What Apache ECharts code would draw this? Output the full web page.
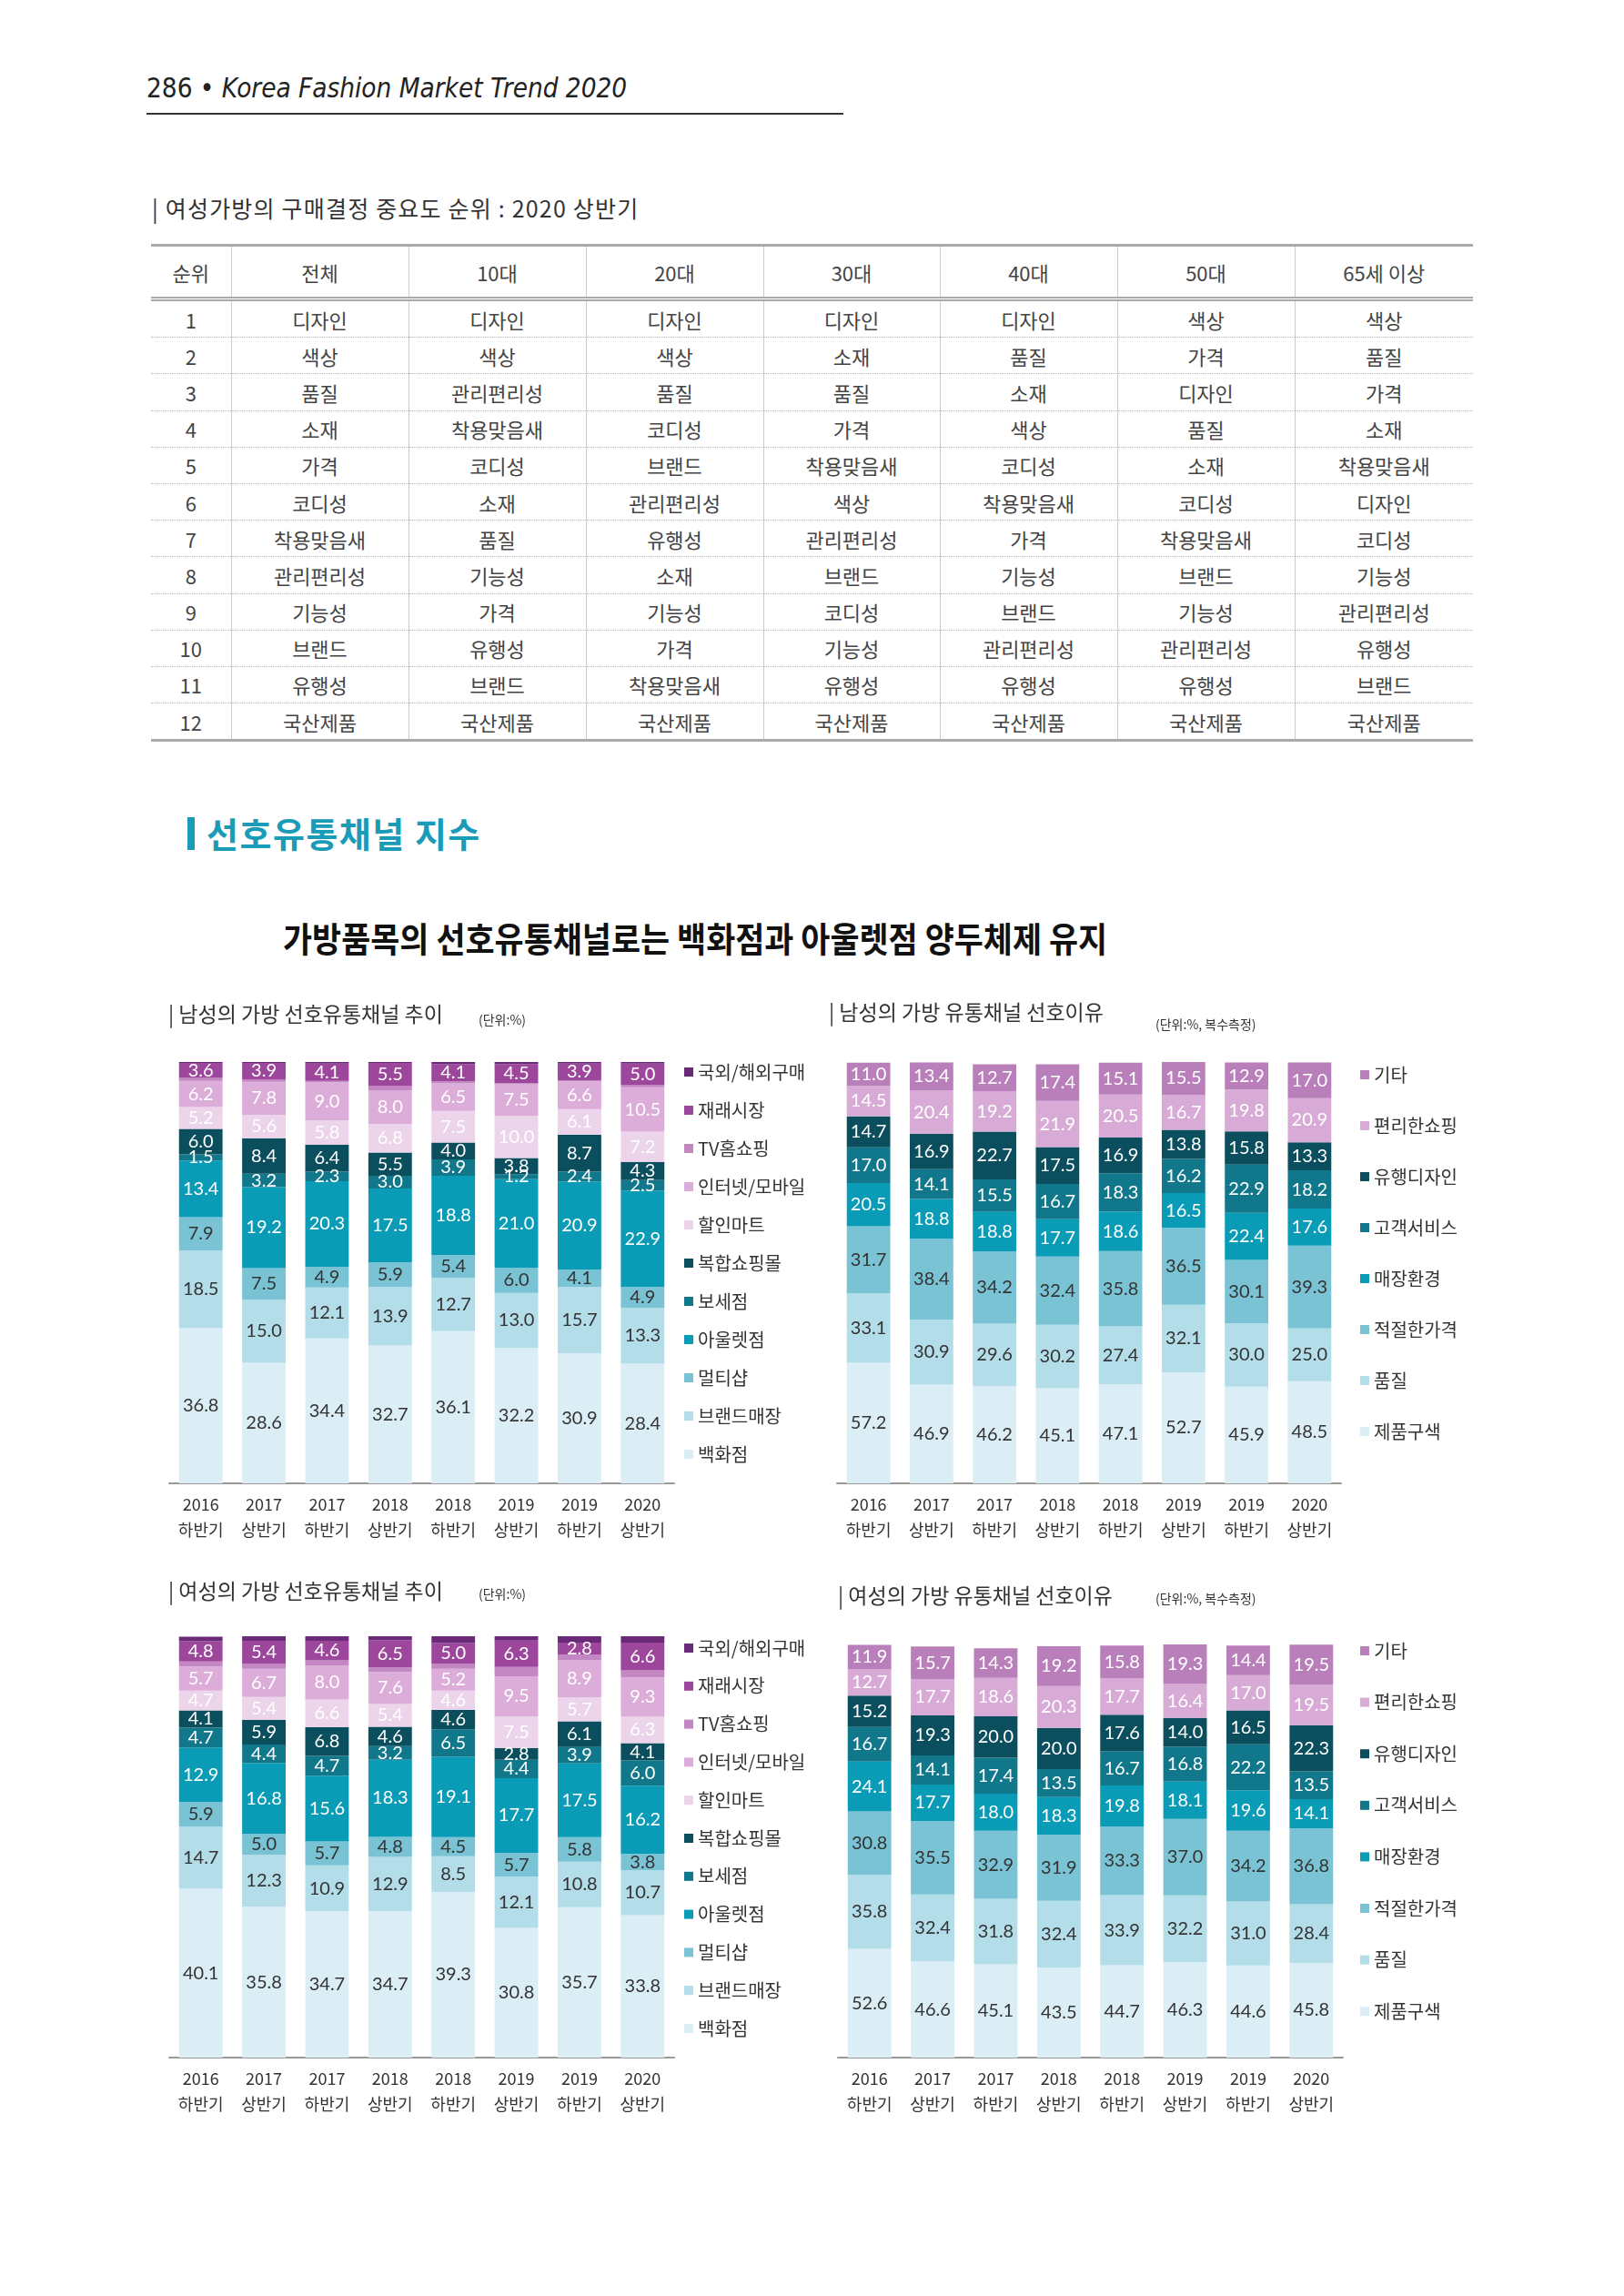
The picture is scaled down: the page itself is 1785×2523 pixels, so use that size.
<!DOCTYPE html>
<html>
<head>
<meta charset="utf-8">
<script src="https://cdn.jsdelivr.net/npm/echarts@6/dist/echarts.min.js"></script>
<style>
html, body { margin: 0; padding: 0; background: #fff; }
body { width: 1785px; height: 2523px; position: relative; overflow: hidden; font-family: 'Noto Sans CJK KR', sans-serif; color: #333; }
#head { position: absolute; left: 161px; top: 77px; font-family: 'DejaVu Sans Condensed', 'DejaVu Sans', sans-serif; font-size: 29.4px; line-height: 40px; color: #222; white-space: nowrap; }
#head i { font-style: italic; }
#rule { position: absolute; left: 161px; top: 124px; width: 766px; height: 2px; background: #333; }
#cap { position: absolute; left: 167px; top: 211px; font-size: 25px; line-height: 34px; letter-spacing: 1.2px; color: #333; white-space: nowrap; }
#tbl { position: absolute; left: 166px; top: 268px; width: 1453px; border-collapse: collapse; table-layout: fixed; font-size: 22px; color: #444; }
#tbl th { height: 55px; font-weight: normal; border-top: 3px solid #aaa; border-bottom: 5px double #aaa; }
#tbl td { height: 39.2px; padding: 0; border-bottom: 1px dotted #bbb; text-align: center; }
#tbl th, #tbl td { border-left: 1px solid #ccc; text-align: center; padding: 0; }
#tbl th:first-child, #tbl td:first-child { border-left: none; }
#tbl tr:last-child td { border-bottom: 3px solid #aaa; }
#secbar { position: absolute; left: 206px; top: 898px; width: 8px; height: 36px; background: #1a9cb8; }
#sec { position: absolute; left: 227px; top: 892px; font-size: 38px; line-height: 46px; letter-spacing: 1.5px; font-weight: bold; color: #1a9cb8; white-space: nowrap; }
#headline { position: absolute; left: 311px; top: 1005px; font-size: 38px; line-height: 50px; font-weight: bold; color: #111; white-space: nowrap; transform: scaleX(0.918); transform-origin: left center; }
#chart { position: absolute; left: 0; top: 0; width: 1785px; height: 2523px; }
</style>
</head>
<body>
<div id="head">286 • <i>Korea Fashion Market Trend 2020</i></div>
<div id="rule"></div>
<div id="cap">| 여성가방의 구매결정 중요도 순위 : 2020 상반기</div>
<table id="tbl"></table>
<div id="secbar"></div>
<div id="sec">선호유통채널 지수</div>
<div id="headline">가방품목의 선호유통채널로는 백화점과 아울렛점 양두체제 유지</div>
<div id="chart"></div>
<script>
// 구매결정 중요도 순위 표
var tableHead = ['순위', '전체', '10대', '20대', '30대', '40대', '50대', '65세 이상'];
var rankAll = ['디자인', '색상', '품질', '소재', '가격', '코디성', '착용맞음새', '관리편리성', '기능성', '브랜드', '유행성', '국산제품'];
var rank10 = ['디자인', '색상', '관리편리성', '착용맞음새', '코디성', '소재', '품질', '기능성', '가격', '유행성', '브랜드', '국산제품'];
var rank20 = ['디자인', '색상', '품질', '코디성', '브랜드', '관리편리성', '유행성', '소재', '기능성', '가격', '착용맞음새', '국산제품'];
var rank30 = ['디자인', '소재', '품질', '가격', '착용맞음새', '색상', '관리편리성', '브랜드', '코디성', '기능성', '유행성', '국산제품'];
var rank40 = ['디자인', '품질', '소재', '색상', '코디성', '착용맞음새', '가격', '기능성', '브랜드', '관리편리성', '유행성', '국산제품'];
var rank50 = ['색상', '가격', '디자인', '품질', '소재', '코디성', '착용맞음새', '브랜드', '기능성', '관리편리성', '유행성', '국산제품'];
var rank65 = ['색상', '품질', '가격', '소재', '착용맞음새', '디자인', '코디성', '기능성', '관리편리성', '유행성', '브랜드', '국산제품'];

var periods = ['2016\n하반기', '2017\n상반기', '2017\n하반기', '2018\n상반기', '2018\n하반기', '2019\n상반기', '2019\n하반기', '2020\n상반기'];

// 유통채널 (아래 -> 위)
var channelNames = ['백화점', '브랜드매장', '멀티샵', '아울렛점', '보세점', '복합쇼핑몰', '할인마트', '인터넷/모바일', 'TV홈쇼핑', '재래시장', '국외/해외구매'];
var mDept   = [36.8, 28.6, 34.4, 32.7, 36.1, 32.2, 30.9, 28.4];
var mBrand  = [18.5, 15.0, 12.1, 13.9, 12.7, 13.0, 15.7, 13.3];
var mMulti  = [7.9, 7.5, 4.9, 5.9, 5.4, 6.0, 4.1, 4.9];
var mOutlet = [13.4, 19.2, 20.3, 17.5, 18.8, 21.0, 20.9, 22.9];
var mBose   = [1.5, 3.2, 2.3, 3.0, 3.9, 1.2, 2.4, 2.5];
var mMall   = [6.0, 8.4, 6.4, 5.5, 4.0, 3.8, 8.7, 4.3];
var mMart   = [5.2, 5.6, 5.8, 6.8, 7.5, 10.0, 6.1, 7.2];
var mOnline = [6.2, 7.8, 9.0, 8.0, 6.5, 7.5, 6.6, 10.5];
var mTv     = [0.7, 0.6, 0.3, 1.0, 0.5, 0.3, 0.3, 0.6];
var mMarket = [3.6, 3.9, 4.1, 5.5, 4.1, 4.5, 3.9, 5.0];
var mAbroad = [0.2, 0.2, 0.4, 0.2, 0.5, 0.5, 0.4, 0.4];

var wDept   = [40.1, 35.8, 34.7, 34.7, 39.3, 30.8, 35.7, 33.8];
var wBrand  = [14.7, 12.3, 10.9, 12.9, 8.5, 12.1, 10.8, 10.7];
var wMulti  = [5.9, 5.0, 5.7, 4.8, 4.5, 5.7, 5.8, 3.8];
var wOutlet = [12.9, 16.8, 15.6, 18.3, 19.1, 17.7, 17.5, 16.2];
var wBose   = [4.7, 4.4, 4.7, 3.2, 6.5, 4.4, 3.9, 6.0];
var wMall   = [4.1, 5.9, 6.8, 4.6, 4.6, 2.8, 6.1, 4.1];
var wMart   = [4.7, 5.4, 6.6, 5.4, 4.6, 7.5, 5.7, 6.3];
var wOnline = [5.7, 6.7, 8.0, 7.6, 5.2, 9.5, 8.9, 9.3];
var wTv     = [1.2, 1.2, 1.3, 1.1, 1.1, 2.2, 1.3, 1.7];
var wMarket = [4.8, 5.4, 4.6, 6.5, 5.0, 6.3, 2.8, 6.6];
var wAbroad = [1.1, 1.1, 1.1, 0.9, 1.6, 1.0, 1.5, 1.5];

// 선호이유 (아래 -> 위), 복수응답
var reasonNames = ['제품구색', '품질', '적절한가격', '매장환경', '고객서비스', '유행디자인', '편리한쇼핑', '기타'];
var mAssort  = [57.2, 46.9, 46.2, 45.1, 47.1, 52.7, 45.9, 48.5];
var mQuality = [33.1, 30.9, 29.6, 30.2, 27.4, 32.1, 30.0, 25.0];
var mPrice   = [31.7, 38.4, 34.2, 32.4, 35.8, 36.5, 30.1, 39.3];
var mStore   = [20.5, 18.8, 18.8, 17.7, 18.6, 16.5, 22.4, 17.6];
var mService = [17.0, 14.1, 15.5, 16.7, 18.3, 16.2, 22.9, 18.2];
var mTrend   = [14.7, 16.9, 22.7, 17.5, 16.9, 13.8, 15.8, 13.3];
var mConv    = [14.5, 20.4, 19.2, 21.9, 20.5, 16.7, 19.8, 20.9];
var mEtc     = [11.0, 13.4, 12.7, 17.4, 15.1, 15.5, 12.9, 17.0];

var wAssort  = [52.6, 46.6, 45.1, 43.5, 44.7, 46.3, 44.6, 45.8];
var wQuality = [35.8, 32.4, 31.8, 32.4, 33.9, 32.2, 31.0, 28.4];
var wPrice   = [30.8, 35.5, 32.9, 31.9, 33.3, 37.0, 34.2, 36.8];
var wStore   = [24.1, 17.7, 18.0, 18.3, 19.8, 18.1, 19.6, 14.1];
var wService = [16.7, 14.1, 17.4, 13.5, 16.7, 16.8, 22.2, 13.5];
var wTrend   = [15.2, 19.3, 20.0, 20.0, 17.6, 14.0, 16.5, 22.3];
var wConv    = [12.7, 17.7, 18.6, 20.3, 17.7, 16.4, 17.0, 19.5];
var wEtc     = [11.9, 15.7, 14.3, 19.2, 15.8, 19.3, 14.4, 19.5];

// 표 만들기
var cols = [null, rankAll, rank10, rank20, rank30, rank40, rank50, rank65];
var widths = [88, 195, 195, 195, 194, 195, 195, 196];
var html = '<colgroup>' + widths.map(function (w) { return '<col style="width:' + w + 'px">'; }).join('') + '</colgroup>';
html += '<tr>' + tableHead.map(function (h) { return '<th>' + h + '</th>'; }).join('') + '</tr>';
for (var r = 0; r < 12; r++) {
    html += '<tr><td>' + (r + 1) + '</td>';
    for (var c = 1; c < cols.length; c++) html += '<td>' + cols[c][r] + '</td>';
    html += '</tr>';
}
document.getElementById('tbl').innerHTML = html;

var channelColors = ['#dbeef5', '#b3dde8', '#7ac3d4', '#0a9bb6', '#11788c', '#0b4e5e', '#ecd4ea', '#dcadd9', '#c387c3', '#9c479c', '#6b2a78'];
var channelText = ['#333', '#333', '#333', '#fff', '#fff', '#fff', '#fff', '#fff', '#fff', '#fff', '#fff'];
var channelLabel = [true, true, true, true, true, true, true, true, false, true, false];
var reasonColors = ['#dbeef5', '#b3dde8', '#7ac3d4', '#0a9bb6', '#11788c', '#0b4e5e', '#d8abd6', '#b97fba'];
var reasonText = ['#333', '#333', '#333', '#fff', '#fff', '#fff', '#fff', '#fff'];
var reasonLabel = [true, true, true, true, true, true, true, true];

function bars(idx, names, values, colors, textColors, labelled) {
    return names.map(function (n, i) {
        return {
            name: n, type: 'bar', stack: 's' + idx,
            xAxisIndex: idx, yAxisIndex: idx,
            data: values[i], barWidth: '69%',
            itemStyle: { color: colors[i] },
            label: {
                show: labelled[i], position: 'inside', color: textColors[i],
                fontSize: 20, fontFamily: 'Lato',
                formatter: function (p) { return p.value.toFixed(1); }
            },
            emphasis: { disabled: true }
        };
    });
}

var grids = [
    { left: 186, top: 1167, width: 555, height: 463 },
    { left: 920, top: 1167, width: 554, height: 463 },
    { left: 186, top: 1798, width: 555, height: 463 },
    { left: 921, top: 1807, width: 555, height: 454 }
];
var legendPos = [
    { left: 752, top: 1168, gap: 22 },
    { left: 1495, top: 1171, gap: 36 },
    { left: 752, top: 1801, gap: 21.8 },
    { left: 1495, top: 1804, gap: 36.6 }
];
var titleText = ['| 남성의 가방 선호유통채널 추이', '| 남성의 가방 유통채널 선호이유', '| 여성의 가방 선호유통채널 추이', '| 여성의 가방 유통채널 선호이유'];
var titlePos = [[185, 1103], [911, 1101], [185, 1737], [921, 1742]];
var subText = ['(단위:%)', '(단위:%, 복수측정)', '(단위:%)', '(단위:%, 복수측정)'];
var subPos = [[526, 1114], [1270, 1119], [526, 1745], [1270, 1750]];

var titles = [];
for (var t = 0; t < 4; t++) {
    titles.push({ text: titleText[t], left: titlePos[t][0], top: titlePos[t][1], padding: 0,
        textStyle: { fontSize: 23, fontWeight: 'normal', color: '#333', fontFamily: 'Noto Sans CJK KR' } });
    titles.push({ text: subText[t], left: subPos[t][0], top: subPos[t][1], padding: 0,
        textStyle: { fontSize: 14, fontWeight: 'normal', color: '#333', fontFamily: 'Noto Sans CJK KR' } });
}

var series = []
    .concat(bars(0, channelNames, [mDept, mBrand, mMulti, mOutlet, mBose, mMall, mMart, mOnline, mTv, mMarket, mAbroad], channelColors, channelText, channelLabel))
    .concat(bars(1, reasonNames, [mAssort, mQuality, mPrice, mStore, mService, mTrend, mConv, mEtc], reasonColors, reasonText, reasonLabel))
    .concat(bars(2, channelNames, [wDept, wBrand, wMulti, wOutlet, wBose, wMall, wMart, wOnline, wTv, wMarket, wAbroad], channelColors, channelText, channelLabel))
    .concat(bars(3, reasonNames, [wAssort, wQuality, wPrice, wStore, wService, wTrend, wConv, wEtc], reasonColors, reasonText, reasonLabel));

var option = {
    animation: false,
    title: titles,
    grid: grids,
    legend: legendPos.map(function (p, i) {
        var names = (i % 2 === 0 ? channelNames : reasonNames).slice().reverse();
        return {
            data: names, orient: 'vertical', left: p.left, top: p.top, itemGap: p.gap,
            itemWidth: 10, itemHeight: 10, icon: 'rect', selectedMode: false, padding: 0,
            textStyle: { fontSize: 20, lineHeight: 20, color: '#333', fontFamily: 'Noto Sans CJK KR' }
        };
    }),
    xAxis: grids.map(function (g, i) {
        return {
            type: 'category', gridIndex: i, data: periods,
            axisLine: { lineStyle: { color: '#999', width: 2 } },
            axisTick: { show: false },
            axisLabel: { fontSize: 18, lineHeight: 28, margin: 9, color: '#333', fontFamily: 'Noto Sans CJK KR' }
        };
    }),
    yAxis: grids.map(function (g, i) {
        return { type: 'value', gridIndex: i, min: 0, max: i % 2 === 0 ? 100 : 200, show: false, splitLine: { show: false } };
    }),
    series: series
};

var chart = echarts.init(document.getElementById('chart'));
chart.setOption(option);
</script>
</body>
</html>
